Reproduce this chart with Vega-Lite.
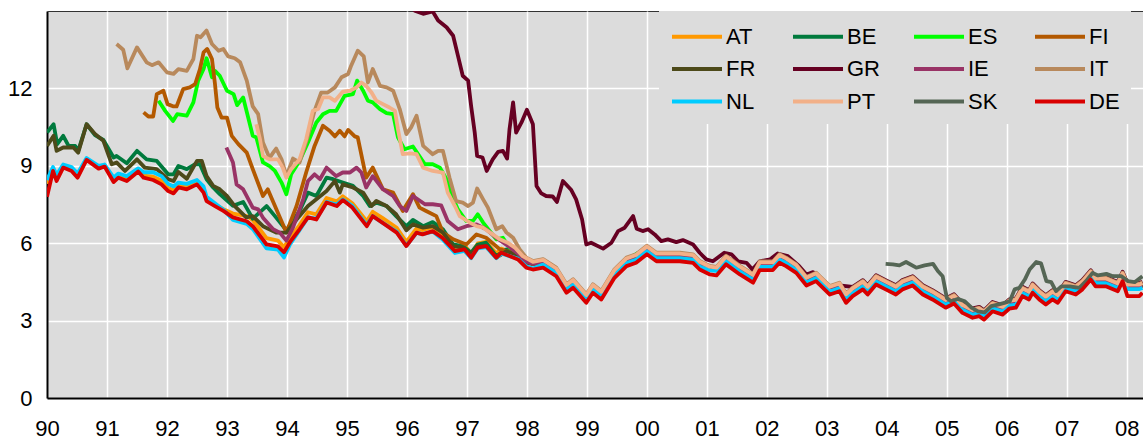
{
"$schema": "https://vega.github.io/schema/vega-lite/v6.json",
"width": 1096, "height": 387,
"autosize": {"type": "none"},
"padding": {"left": 47, "top": 11, "right": 0, "bottom": 43},
"background": "white",
"config": {
 "view": {"fill": "#dcdcdc", "stroke": "#333333", "strokeWidth": 1},
 "axis": {"grid": true, "gridColor": "white", "gridWidth": 1.5, "domainColor": "black", "domainWidth": 2, "ticks": false, "labelFont": "Liberation Sans", "labelFontSize": 22, "labelColor": "black", "title": null},
 "legend": {"orient": "none", "direction": "horizontal", "legendX": 612, "legendY": 0, "columns": 4, "symbolType": "M-1,0H3", "symbolSize": 625, "symbolStrokeWidth": 4, "labelFont": "Liberation Sans", "labelFontSize": 22, "labelColor": "black", "fillColor": "#dcdcdc", "padding": 11, "rowPadding": 6.5, "columnPadding": 26, "gridAlign": "all", "labelOffset": 27, "title": null}
},
"data": {"values": [
{"c":"AT","t":1990,"v":8.3},{"c":"AT","t":1990.1,"v":8.85},{"c":"AT","t":1990.16,"v":8.5},{"c":"AT","t":1990.27,"v":8.98},{"c":"AT","t":1990.41,"v":8.87},{"c":"AT","t":1990.51,"v":8.6},{"c":"AT","t":1990.66,"v":9.27},{"c":"AT","t":1990.86,"v":8.94},{"c":"AT","t":1990.96,"v":9.0},{"c":"AT","t":1991.11,"v":8.45},{"c":"AT","t":1991.19,"v":8.6},{"c":"AT","t":1991.33,"v":8.5},{"c":"AT","t":1991.52,"v":8.84},{"c":"AT","t":1991.61,"v":8.62},{"c":"AT","t":1991.77,"v":8.58},{"c":"AT","t":1991.91,"v":8.42},{"c":"AT","t":1992.02,"v":8.14},{"c":"AT","t":1992.11,"v":8.05},{"c":"AT","t":1992.19,"v":8.24},{"c":"AT","t":1992.33,"v":8.18},{"c":"AT","t":1992.5,"v":8.36},{"c":"AT","t":1992.61,"v":8.05},{"c":"AT","t":1992.66,"v":7.7},{"c":"AT","t":1992.8,"v":7.5},{"c":"AT","t":1992.94,"v":7.32},{"c":"AT","t":1993.1,"v":7.15},{"c":"AT","t":1993.33,"v":7.05},{"c":"AT","t":1993.43,"v":6.9},{"c":"AT","t":1993.66,"v":6.2},{"c":"AT","t":1993.85,"v":6.1},{"c":"AT","t":1993.95,"v":5.85},{"c":"AT","t":1994.05,"v":6.2},{"c":"AT","t":1994.21,"v":6.7},{"c":"AT","t":1994.35,"v":7.2},{"c":"AT","t":1994.49,"v":7.12},{"c":"AT","t":1994.66,"v":7.75},{"c":"AT","t":1994.83,"v":7.62},{"c":"AT","t":1994.93,"v":7.82},{"c":"AT","t":1995.09,"v":7.55},{"c":"AT","t":1995.33,"v":6.85},{"c":"AT","t":1995.43,"v":7.22},{"c":"AT","t":1995.59,"v":6.98},{"c":"AT","t":1995.83,"v":6.6},{"c":"AT","t":1995.99,"v":6.05},{"c":"AT","t":1996.16,"v":6.57},{"c":"AT","t":1996.26,"v":6.5},{"c":"AT","t":1996.43,"v":6.63},{"c":"AT","t":1996.59,"v":6.37},{"c":"AT","t":1996.8,"v":5.85},{"c":"AT","t":1996.96,"v":5.92},{"c":"AT","t":1997.07,"v":5.6},{"c":"AT","t":1997.18,"v":5.99},{"c":"AT","t":1997.32,"v":6.05},{"c":"AT","t":1997.49,"v":5.6},{"c":"AT","t":1997.57,"v":5.79},{"c":"AT","t":1997.71,"v":5.66},{"c":"AT","t":1997.85,"v":5.53},{"c":"AT","t":1997.99,"v":5.21},
{"c":"AT","t":1998.1,"v":5.2},{"c":"AT","t":1998.27,"v":5.27},{"c":"AT","t":1998.49,"v":4.94},{"c":"AT","t":1998.66,"v":4.3},{"c":"AT","t":1998.77,"v":4.49},{"c":"AT","t":1998.99,"v":3.91},{"c":"AT","t":1999.1,"v":4.3},{"c":"AT","t":1999.24,"v":4.04},{"c":"AT","t":1999.46,"v":4.88},{"c":"AT","t":1999.66,"v":5.33},{"c":"AT","t":1999.82,"v":5.46},{"c":"AT","t":2000,"v":5.79},{"c":"AT","t":2000.16,"v":5.52},{"c":"AT","t":2000.32,"v":5.52},{"c":"AT","t":2000.55,"v":5.52},{"c":"AT","t":2000.77,"v":5.46},{"c":"AT","t":2000.88,"v":5.2},{"c":"AT","t":2001.05,"v":5.01},{"c":"AT","t":2001.16,"v":4.97},{"c":"AT","t":2001.32,"v":5.4},{"c":"AT","t":2001.55,"v":5.01},{"c":"AT","t":2001.77,"v":4.69},{"c":"AT","t":2001.88,"v":5.18},{"c":"AT","t":2002.1,"v":5.18},{"c":"AT","t":2002.21,"v":5.46},{"c":"AT","t":2002.32,"v":5.33},{"c":"AT","t":2002.49,"v":5.07},{"c":"AT","t":2002.66,"v":4.58},{"c":"AT","t":2002.82,"v":4.75},{"c":"AT","t":2003.05,"v":4.23},{"c":"AT","t":2003.21,"v":4.36},{"c":"AT","t":2003.32,"v":3.94},{"c":"AT","t":2003.43,"v":4.17},{"c":"AT","t":2003.6,"v":4.43},{"c":"AT","t":2003.68,"v":4.23},{"c":"AT","t":2003.82,"v":4.62},{"c":"AT","t":2003.98,"v":4.43},{"c":"AT","t":2004.15,"v":4.23},{"c":"AT","t":2004.26,"v":4.43},{"c":"AT","t":2004.43,"v":4.58},{"c":"AT","t":2004.6,"v":4.23},{"c":"AT","t":2004.76,"v":4.04},{"c":"AT","t":2004.98,"v":3.72},{"c":"AT","t":2005.12,"v":3.88},{"c":"AT","t":2005.26,"v":3.52},{"c":"AT","t":2005.43,"v":3.33},{"c":"AT","t":2005.54,"v":3.39},{"c":"AT","t":2005.62,"v":3.26},{"c":"AT","t":2005.76,"v":3.58},{"c":"AT","t":2005.93,"v":3.45},{"c":"AT","t":2006.04,"v":3.68},{"c":"AT","t":2006.15,"v":3.72},{"c":"AT","t":2006.26,"v":4.17},{"c":"AT","t":2006.37,"v":4.04},{"c":"AT","t":2006.43,"v":4.3},{"c":"AT","t":2006.54,"v":4.04},{"c":"AT","t":2006.65,"v":3.84},{"c":"AT","t":2006.76,"v":4.04},{"c":"AT","t":2006.85,"v":3.91},{"c":"AT","t":2006.98,"v":4.36},{"c":"AT","t":2007.15,"v":4.23},{"c":"AT","t":2007.26,"v":4.43},{"c":"AT","t":2007.4,"v":4.81},{"c":"AT","t":2007.48,"v":4.55},{"c":"AT","t":2007.65,"v":4.55},{"c":"AT","t":2007.85,"v":4.36},{"c":"AT","t":2007.93,"v":4.75},{"c":"AT","t":2008.01,"v":4.32},{"c":"AT","t":2008.21,"v":4.32},{"c":"AT","t":2008.26,"v":4.37},

{"c":"BE","t":1990,"v":10.29},{"c":"BE","t":1990.11,"v":10.61},{"c":"BE","t":1990.17,"v":9.84},{"c":"BE","t":1990.27,"v":10.16},{"c":"BE","t":1990.36,"v":9.77},{"c":"BE","t":1990.47,"v":9.77},{"c":"BE","t":1990.52,"v":9.58},{"c":"BE","t":1990.66,"v":10.61},{"c":"BE","t":1990.8,"v":10.19},{"c":"BE","t":1990.94,"v":10.0},{"c":"BE","t":1991.11,"v":9.32},{"c":"BE","t":1991.16,"v":9.38},{"c":"BE","t":1991.33,"v":9.1},{"c":"BE","t":1991.5,"v":9.58},{"c":"BE","t":1991.66,"v":9.25},{"c":"BE","t":1991.83,"v":9.19},{"c":"BE","t":1992.02,"v":8.67},{"c":"BE","t":1992.11,"v":8.67},{"c":"BE","t":1992.19,"v":8.99},{"c":"BE","t":1992.33,"v":8.87},{"c":"BE","t":1992.47,"v":9.06},{"c":"BE","t":1992.55,"v":9.06},{"c":"BE","t":1992.66,"v":8.48},{"c":"BE","t":1992.77,"v":8.16},{"c":"BE","t":1992.88,"v":7.9},{"c":"BE","t":1993.1,"v":7.45},{"c":"BE","t":1993.27,"v":7.6},{"c":"BE","t":1993.43,"v":6.95},{"c":"BE","t":1993.66,"v":7.44},{"c":"BE","t":1993.8,"v":7.05},{"c":"BE","t":1993.99,"v":6.5},{"c":"BE","t":1994.21,"v":7.25},{"c":"BE","t":1994.35,"v":7.96},{"c":"BE","t":1994.49,"v":7.83},{"c":"BE","t":1994.66,"v":8.54},{"c":"BE","t":1994.77,"v":8.48},{"c":"BE","t":1994.93,"v":8.35},{"c":"BE","t":1995.1,"v":8.22},{"c":"BE","t":1995.27,"v":7.83},{"c":"BE","t":1995.38,"v":7.44},{"c":"BE","t":1995.49,"v":7.57},{"c":"BE","t":1995.66,"v":7.44},{"c":"BE","t":1995.82,"v":7.05},{"c":"BE","t":1995.99,"v":6.66},{"c":"BE","t":1996.1,"v":6.9},{"c":"BE","t":1996.27,"v":6.66},{"c":"BE","t":1996.43,"v":6.82},{"c":"BE","t":1996.6,"v":6.54},{"c":"BE","t":1996.77,"v":5.95},{"c":"BE","t":1996.93,"v":5.89},{"c":"BE","t":1997.07,"v":5.63},{"c":"BE","t":1997.18,"v":5.95},{"c":"BE","t":1997.32,"v":6.02},{"c":"BE","t":1997.49,"v":5.5},{"c":"BE","t":1997.66,"v":5.76},{"c":"BE","t":1997.88,"v":5.55},{"c":"BE","t":1997.99,"v":5.3},
{"c":"BE","t":1998.1,"v":5.2},{"c":"BE","t":1998.27,"v":5.27},{"c":"BE","t":1998.49,"v":4.94},{"c":"BE","t":1998.66,"v":4.3},{"c":"BE","t":1998.77,"v":4.49},{"c":"BE","t":1998.99,"v":3.91},{"c":"BE","t":1999.1,"v":4.3},{"c":"BE","t":1999.24,"v":4.04},{"c":"BE","t":1999.46,"v":4.88},{"c":"BE","t":1999.66,"v":5.33},{"c":"BE","t":1999.82,"v":5.46},{"c":"BE","t":2000,"v":5.85},{"c":"BE","t":2000.16,"v":5.52},{"c":"BE","t":2000.32,"v":5.55},{"c":"BE","t":2000.55,"v":5.52},{"c":"BE","t":2000.77,"v":5.46},{"c":"BE","t":2000.88,"v":5.2},{"c":"BE","t":2001.05,"v":5.01},{"c":"BE","t":2001.16,"v":4.97},{"c":"BE","t":2001.32,"v":5.4},{"c":"BE","t":2001.55,"v":5.01},{"c":"BE","t":2001.77,"v":4.69},{"c":"BE","t":2001.88,"v":5.18},{"c":"BE","t":2002.1,"v":5.18},{"c":"BE","t":2002.21,"v":5.46},{"c":"BE","t":2002.32,"v":5.33},{"c":"BE","t":2002.49,"v":5.07},{"c":"BE","t":2002.66,"v":4.58},{"c":"BE","t":2002.82,"v":4.75},{"c":"BE","t":2003.05,"v":4.23},{"c":"BE","t":2003.21,"v":4.36},{"c":"BE","t":2003.32,"v":3.94},{"c":"BE","t":2003.43,"v":4.17},{"c":"BE","t":2003.6,"v":4.43},{"c":"BE","t":2003.68,"v":4.23},{"c":"BE","t":2003.82,"v":4.62},{"c":"BE","t":2003.98,"v":4.43},{"c":"BE","t":2004.15,"v":4.23},{"c":"BE","t":2004.26,"v":4.43},{"c":"BE","t":2004.43,"v":4.58},{"c":"BE","t":2004.6,"v":4.23},{"c":"BE","t":2004.76,"v":4.04},{"c":"BE","t":2004.98,"v":3.72},{"c":"BE","t":2005.12,"v":3.88},{"c":"BE","t":2005.26,"v":3.52},{"c":"BE","t":2005.43,"v":3.33},{"c":"BE","t":2005.54,"v":3.39},{"c":"BE","t":2005.62,"v":3.26},{"c":"BE","t":2005.76,"v":3.58},{"c":"BE","t":2005.93,"v":3.45},{"c":"BE","t":2006.04,"v":3.68},{"c":"BE","t":2006.15,"v":3.72},{"c":"BE","t":2006.26,"v":4.17},{"c":"BE","t":2006.37,"v":4.04},{"c":"BE","t":2006.43,"v":4.3},{"c":"BE","t":2006.54,"v":4.04},{"c":"BE","t":2006.65,"v":3.84},{"c":"BE","t":2006.76,"v":4.04},{"c":"BE","t":2006.85,"v":3.91},{"c":"BE","t":2006.98,"v":4.36},{"c":"BE","t":2007.15,"v":4.23},{"c":"BE","t":2007.26,"v":4.43},{"c":"BE","t":2007.4,"v":4.81},{"c":"BE","t":2007.48,"v":4.55},{"c":"BE","t":2007.65,"v":4.55},{"c":"BE","t":2007.85,"v":4.36},{"c":"BE","t":2007.93,"v":4.75},{"c":"BE","t":2008.01,"v":4.32},{"c":"BE","t":2008.21,"v":4.32},{"c":"BE","t":2008.26,"v":4.37},

{"c":"ES","t":1991.86,"v":11.52},{"c":"ES","t":1991.97,"v":11.13},{"c":"ES","t":1992.1,"v":10.74},{"c":"ES","t":1992.17,"v":11.0},{"c":"ES","t":1992.33,"v":10.94},{"c":"ES","t":1992.44,"v":11.46},{"c":"ES","t":1992.52,"v":12.3},{"c":"ES","t":1992.61,"v":12.75},{"c":"ES","t":1992.66,"v":13.17},{"c":"ES","t":1992.75,"v":12.43},{"c":"ES","t":1992.8,"v":12.68},{"c":"ES","t":1992.88,"v":12.49},{"c":"ES","t":1993,"v":11.91},{"c":"ES","t":1993.11,"v":11.78},{"c":"ES","t":1993.17,"v":11.35},{"c":"ES","t":1993.27,"v":11.65},{"c":"ES","t":1993.43,"v":10.16},{"c":"ES","t":1993.49,"v":10.1},{"c":"ES","t":1993.6,"v":9.13},{"c":"ES","t":1993.71,"v":8.99},{"c":"ES","t":1993.8,"v":8.8},{"c":"ES","t":1993.91,"v":8.35},{"c":"ES","t":1993.99,"v":7.9},{"c":"ES","t":1994.07,"v":8.67},{"c":"ES","t":1994.21,"v":9.19},{"c":"ES","t":1994.35,"v":9.9},{"c":"ES","t":1994.49,"v":10.68},{"c":"ES","t":1994.6,"v":11.0},{"c":"ES","t":1994.71,"v":11.13},{"c":"ES","t":1994.82,"v":11.13},{"c":"ES","t":1994.96,"v":11.71},{"c":"ES","t":1995.1,"v":11.78},{"c":"ES","t":1995.17,"v":12.3},{"c":"ES","t":1995.27,"v":11.91},{"c":"ES","t":1995.35,"v":11.52},{"c":"ES","t":1995.43,"v":11.46},{"c":"ES","t":1995.55,"v":11.2},{"c":"ES","t":1995.66,"v":11.04},{"c":"ES","t":1995.77,"v":11.0},{"c":"ES","t":1995.85,"v":10.1},{"c":"ES","t":1995.96,"v":9.64},{"c":"ES","t":1996.1,"v":9.75},{"c":"ES","t":1996.3,"v":9.06},{"c":"ES","t":1996.43,"v":9.06},{"c":"ES","t":1996.55,"v":8.93},{"c":"ES","t":1996.66,"v":8.48},{"c":"ES","t":1996.74,"v":7.9},{"c":"ES","t":1996.85,"v":7.31},{"c":"ES","t":1996.99,"v":6.86},{"c":"ES","t":1997.1,"v":6.86},{"c":"ES","t":1997.18,"v":7.12},{"c":"ES","t":1997.27,"v":6.8},{"c":"ES","t":1997.49,"v":6.15},{"c":"ES","t":1997.6,"v":6.21},{"c":"ES","t":1997.71,"v":5.83},{"c":"ES","t":1997.85,"v":5.6},{"c":"ES","t":1997.99,"v":5.3},
{"c":"ES","t":1998.1,"v":5.2},{"c":"ES","t":1998.27,"v":5.27},{"c":"ES","t":1998.49,"v":4.94},{"c":"ES","t":1998.66,"v":4.3},{"c":"ES","t":1998.77,"v":4.49},{"c":"ES","t":1998.99,"v":3.91},{"c":"ES","t":1999.1,"v":4.3},{"c":"ES","t":1999.24,"v":4.04},{"c":"ES","t":1999.46,"v":4.88},{"c":"ES","t":1999.66,"v":5.36},{"c":"ES","t":1999.82,"v":5.58},{"c":"ES","t":2000,"v":5.79},{"c":"ES","t":2000.16,"v":5.52},{"c":"ES","t":2000.32,"v":5.52},{"c":"ES","t":2000.55,"v":5.52},{"c":"ES","t":2000.77,"v":5.46},{"c":"ES","t":2000.88,"v":5.2},{"c":"ES","t":2001.05,"v":5.01},{"c":"ES","t":2001.16,"v":4.97},{"c":"ES","t":2001.32,"v":5.4},{"c":"ES","t":2001.55,"v":5.01},{"c":"ES","t":2001.77,"v":4.69},{"c":"ES","t":2001.88,"v":5.18},{"c":"ES","t":2002.1,"v":5.18},{"c":"ES","t":2002.21,"v":5.46},{"c":"ES","t":2002.32,"v":5.33},{"c":"ES","t":2002.49,"v":5.07},{"c":"ES","t":2002.66,"v":4.58},{"c":"ES","t":2002.82,"v":4.75},{"c":"ES","t":2003.05,"v":4.23},{"c":"ES","t":2003.21,"v":4.36},{"c":"ES","t":2003.32,"v":3.94},{"c":"ES","t":2003.43,"v":4.17},{"c":"ES","t":2003.6,"v":4.43},{"c":"ES","t":2003.68,"v":4.23},{"c":"ES","t":2003.82,"v":4.62},{"c":"ES","t":2003.98,"v":4.43},{"c":"ES","t":2004.15,"v":4.23},{"c":"ES","t":2004.26,"v":4.43},{"c":"ES","t":2004.43,"v":4.58},{"c":"ES","t":2004.6,"v":4.23},{"c":"ES","t":2004.76,"v":4.04},{"c":"ES","t":2004.98,"v":3.72},{"c":"ES","t":2005.12,"v":3.88},{"c":"ES","t":2005.26,"v":3.52},{"c":"ES","t":2005.43,"v":3.33},{"c":"ES","t":2005.54,"v":3.39},{"c":"ES","t":2005.62,"v":3.26},{"c":"ES","t":2005.76,"v":3.58},{"c":"ES","t":2005.93,"v":3.45},{"c":"ES","t":2006.04,"v":3.68},{"c":"ES","t":2006.15,"v":3.72},{"c":"ES","t":2006.26,"v":4.17},{"c":"ES","t":2006.37,"v":4.04},{"c":"ES","t":2006.43,"v":4.3},{"c":"ES","t":2006.54,"v":4.04},{"c":"ES","t":2006.65,"v":3.84},{"c":"ES","t":2006.76,"v":4.04},{"c":"ES","t":2006.85,"v":3.91},{"c":"ES","t":2006.98,"v":4.36},{"c":"ES","t":2007.15,"v":4.23},{"c":"ES","t":2007.26,"v":4.43},{"c":"ES","t":2007.4,"v":4.81},{"c":"ES","t":2007.48,"v":4.55},{"c":"ES","t":2007.65,"v":4.55},{"c":"ES","t":2007.85,"v":4.36},{"c":"ES","t":2007.93,"v":4.75},{"c":"ES","t":2008.01,"v":4.32},{"c":"ES","t":2008.21,"v":4.32},{"c":"ES","t":2008.26,"v":4.37},

{"c":"FI","t":1991.61,"v":11.07},{"c":"FI","t":1991.69,"v":10.91},{"c":"FI","t":1991.77,"v":10.91},{"c":"FI","t":1991.83,"v":11.78},{"c":"FI","t":1991.94,"v":11.91},{"c":"FI","t":1992.01,"v":11.39},{"c":"FI","t":1992.11,"v":11.3},{"c":"FI","t":1992.16,"v":11.3},{"c":"FI","t":1992.27,"v":11.97},{"c":"FI","t":1992.38,"v":12.04},{"c":"FI","t":1992.47,"v":12.17},{"c":"FI","t":1992.55,"v":12.75},{"c":"FI","t":1992.61,"v":13.4},{"c":"FI","t":1992.67,"v":13.53},{"c":"FI","t":1992.75,"v":13.14},{"c":"FI","t":1992.8,"v":12.17},{"c":"FI","t":1992.84,"v":11.26},{"c":"FI","t":1992.91,"v":10.87},{"c":"FI","t":1993,"v":10.87},{"c":"FI","t":1993.08,"v":10.16},{"c":"FI","t":1993.19,"v":9.84},{"c":"FI","t":1993.33,"v":9.51},{"c":"FI","t":1993.43,"v":8.87},{"c":"FI","t":1993.6,"v":7.83},{"c":"FI","t":1993.68,"v":8.09},{"c":"FI","t":1993.99,"v":6.41},{"c":"FI","t":1994.16,"v":7.44},{"c":"FI","t":1994.32,"v":8.74},{"c":"FI","t":1994.46,"v":9.77},{"c":"FI","t":1994.6,"v":10.55},{"c":"FI","t":1994.71,"v":10.36},{"c":"FI","t":1994.8,"v":10.14},{"c":"FI","t":1994.88,"v":10.36},{"c":"FI","t":1994.96,"v":10.14},{"c":"FI","t":1995.02,"v":10.39},{"c":"FI","t":1995.13,"v":10.14},{"c":"FI","t":1995.18,"v":10.1},{"c":"FI","t":1995.32,"v":8.54},{"c":"FI","t":1995.43,"v":8.93},{"c":"FI","t":1995.6,"v":8.09},{"c":"FI","t":1995.77,"v":7.96},{"c":"FI","t":1995.93,"v":7.25},{"c":"FI","t":1996.1,"v":7.9},{"c":"FI","t":1996.21,"v":7.38},{"c":"FI","t":1996.32,"v":7.25},{"c":"FI","t":1996.49,"v":7.05},{"c":"FI","t":1996.6,"v":6.41},{"c":"FI","t":1996.77,"v":6.15},{"c":"FI","t":1996.99,"v":5.95},{"c":"FI","t":1997.16,"v":6.34},{"c":"FI","t":1997.32,"v":6.21},{"c":"FI","t":1997.55,"v":5.76},{"c":"FI","t":1997.77,"v":5.63},{"c":"FI","t":1997.99,"v":5.28},
{"c":"FI","t":1998.1,"v":5.2},{"c":"FI","t":1998.27,"v":5.27},{"c":"FI","t":1998.49,"v":4.94},{"c":"FI","t":1998.66,"v":4.3},{"c":"FI","t":1998.77,"v":4.49},{"c":"FI","t":1998.99,"v":3.91},{"c":"FI","t":1999.1,"v":4.3},{"c":"FI","t":1999.24,"v":4.04},{"c":"FI","t":1999.46,"v":4.88},{"c":"FI","t":1999.66,"v":5.33},{"c":"FI","t":1999.82,"v":5.46},{"c":"FI","t":2000,"v":5.79},{"c":"FI","t":2000.16,"v":5.52},{"c":"FI","t":2000.32,"v":5.52},{"c":"FI","t":2000.55,"v":5.52},{"c":"FI","t":2000.77,"v":5.46},{"c":"FI","t":2000.88,"v":5.2},{"c":"FI","t":2001.05,"v":5.01},{"c":"FI","t":2001.16,"v":4.97},{"c":"FI","t":2001.32,"v":5.4},{"c":"FI","t":2001.55,"v":5.01},{"c":"FI","t":2001.77,"v":4.69},{"c":"FI","t":2001.88,"v":5.18},{"c":"FI","t":2002.1,"v":5.18},{"c":"FI","t":2002.21,"v":5.46},{"c":"FI","t":2002.32,"v":5.33},{"c":"FI","t":2002.49,"v":5.07},{"c":"FI","t":2002.66,"v":4.58},{"c":"FI","t":2002.82,"v":4.75},{"c":"FI","t":2003.05,"v":4.23},{"c":"FI","t":2003.21,"v":4.36},{"c":"FI","t":2003.32,"v":3.94},{"c":"FI","t":2003.43,"v":4.17},{"c":"FI","t":2003.6,"v":4.43},{"c":"FI","t":2003.68,"v":4.23},{"c":"FI","t":2003.82,"v":4.62},{"c":"FI","t":2003.98,"v":4.43},{"c":"FI","t":2004.15,"v":4.23},{"c":"FI","t":2004.26,"v":4.43},{"c":"FI","t":2004.43,"v":4.58},{"c":"FI","t":2004.6,"v":4.23},{"c":"FI","t":2004.76,"v":4.04},{"c":"FI","t":2004.98,"v":3.72},{"c":"FI","t":2005.12,"v":3.88},{"c":"FI","t":2005.26,"v":3.52},{"c":"FI","t":2005.43,"v":3.33},{"c":"FI","t":2005.54,"v":3.39},{"c":"FI","t":2005.62,"v":3.26},{"c":"FI","t":2005.76,"v":3.58},{"c":"FI","t":2005.93,"v":3.45},{"c":"FI","t":2006.04,"v":3.68},{"c":"FI","t":2006.15,"v":3.72},{"c":"FI","t":2006.26,"v":4.17},{"c":"FI","t":2006.37,"v":4.04},{"c":"FI","t":2006.43,"v":4.3},{"c":"FI","t":2006.54,"v":4.04},{"c":"FI","t":2006.65,"v":3.84},{"c":"FI","t":2006.76,"v":4.04},{"c":"FI","t":2006.85,"v":3.91},{"c":"FI","t":2006.98,"v":4.36},{"c":"FI","t":2007.15,"v":4.23},{"c":"FI","t":2007.26,"v":4.43},{"c":"FI","t":2007.4,"v":4.81},{"c":"FI","t":2007.48,"v":4.55},{"c":"FI","t":2007.65,"v":4.55},{"c":"FI","t":2007.85,"v":4.36},{"c":"FI","t":2007.93,"v":4.75},{"c":"FI","t":2008.01,"v":4.32},{"c":"FI","t":2008.21,"v":4.32},{"c":"FI","t":2008.26,"v":4.37},

{"c":"FR","t":1990,"v":9.77},{"c":"FR","t":1990.11,"v":10.16},{"c":"FR","t":1990.16,"v":9.58},{"c":"FR","t":1990.27,"v":9.71},{"c":"FR","t":1990.44,"v":9.71},{"c":"FR","t":1990.52,"v":9.51},{"c":"FR","t":1990.66,"v":10.61},{"c":"FR","t":1990.8,"v":10.23},{"c":"FR","t":1990.94,"v":9.97},{"c":"FR","t":1991.08,"v":9.06},{"c":"FR","t":1991.16,"v":9.13},{"c":"FR","t":1991.3,"v":8.8},{"c":"FR","t":1991.5,"v":9.25},{"c":"FR","t":1991.63,"v":8.93},{"c":"FR","t":1991.83,"v":8.87},{"c":"FR","t":1992.02,"v":8.48},{"c":"FR","t":1992.11,"v":8.41},{"c":"FR","t":1992.19,"v":8.76},{"c":"FR","t":1992.33,"v":8.5},{"c":"FR","t":1992.5,"v":9.19},{"c":"FR","t":1992.58,"v":9.19},{"c":"FR","t":1992.66,"v":8.6},{"c":"FR","t":1992.77,"v":8.22},{"c":"FR","t":1992.88,"v":8.09},{"c":"FR","t":1993,"v":7.83},{"c":"FR","t":1993.13,"v":7.44},{"c":"FR","t":1993.32,"v":7.0},{"c":"FR","t":1993.43,"v":7.05},{"c":"FR","t":1993.6,"v":6.66},{"c":"FR","t":1993.82,"v":6.41},{"c":"FR","t":1993.99,"v":6.41},{"c":"FR","t":1994.16,"v":6.92},{"c":"FR","t":1994.35,"v":7.44},{"c":"FR","t":1994.49,"v":7.7},{"c":"FR","t":1994.66,"v":8.02},{"c":"FR","t":1994.8,"v":8.41},{"c":"FR","t":1994.88,"v":7.96},{"c":"FR","t":1994.93,"v":8.28},{"c":"FR","t":1995.1,"v":8.16},{"c":"FR","t":1995.27,"v":7.96},{"c":"FR","t":1995.41,"v":7.44},{"c":"FR","t":1995.49,"v":7.64},{"c":"FR","t":1995.66,"v":7.44},{"c":"FR","t":1995.82,"v":7.12},{"c":"FR","t":1995.99,"v":6.5},{"c":"FR","t":1996.1,"v":6.73},{"c":"FR","t":1996.27,"v":6.6},{"c":"FR","t":1996.43,"v":6.66},{"c":"FR","t":1996.6,"v":6.41},{"c":"FR","t":1996.77,"v":5.89},{"c":"FR","t":1996.93,"v":5.83},{"c":"FR","t":1997.07,"v":5.57},{"c":"FR","t":1997.18,"v":5.89},{"c":"FR","t":1997.32,"v":5.89},{"c":"FR","t":1997.49,"v":5.44},{"c":"FR","t":1997.66,"v":5.69},{"c":"FR","t":1997.88,"v":5.5},{"c":"FR","t":1997.99,"v":5.25},
{"c":"FR","t":1998.1,"v":5.2},{"c":"FR","t":1998.27,"v":5.27},{"c":"FR","t":1998.49,"v":4.94},{"c":"FR","t":1998.66,"v":4.3},{"c":"FR","t":1998.77,"v":4.49},{"c":"FR","t":1998.99,"v":3.91},{"c":"FR","t":1999.1,"v":4.3},{"c":"FR","t":1999.24,"v":4.04},{"c":"FR","t":1999.46,"v":4.88},{"c":"FR","t":1999.66,"v":5.33},{"c":"FR","t":1999.82,"v":5.46},{"c":"FR","t":2000,"v":5.79},{"c":"FR","t":2000.16,"v":5.52},{"c":"FR","t":2000.32,"v":5.52},{"c":"FR","t":2000.55,"v":5.52},{"c":"FR","t":2000.77,"v":5.46},{"c":"FR","t":2000.88,"v":5.2},{"c":"FR","t":2001.05,"v":5.01},{"c":"FR","t":2001.16,"v":4.97},{"c":"FR","t":2001.32,"v":5.4},{"c":"FR","t":2001.55,"v":5.01},{"c":"FR","t":2001.77,"v":4.69},{"c":"FR","t":2001.88,"v":5.18},{"c":"FR","t":2002.1,"v":5.18},{"c":"FR","t":2002.21,"v":5.46},{"c":"FR","t":2002.32,"v":5.33},{"c":"FR","t":2002.49,"v":5.07},{"c":"FR","t":2002.66,"v":4.58},{"c":"FR","t":2002.82,"v":4.75},{"c":"FR","t":2003.05,"v":4.23},{"c":"FR","t":2003.21,"v":4.36},{"c":"FR","t":2003.32,"v":3.94},{"c":"FR","t":2003.43,"v":4.17},{"c":"FR","t":2003.6,"v":4.43},{"c":"FR","t":2003.68,"v":4.23},{"c":"FR","t":2003.82,"v":4.62},{"c":"FR","t":2003.98,"v":4.43},{"c":"FR","t":2004.15,"v":4.23},{"c":"FR","t":2004.26,"v":4.43},{"c":"FR","t":2004.43,"v":4.58},{"c":"FR","t":2004.6,"v":4.23},{"c":"FR","t":2004.76,"v":4.04},{"c":"FR","t":2004.98,"v":3.72},{"c":"FR","t":2005.12,"v":3.88},{"c":"FR","t":2005.26,"v":3.52},{"c":"FR","t":2005.43,"v":3.33},{"c":"FR","t":2005.54,"v":3.39},{"c":"FR","t":2005.62,"v":3.26},{"c":"FR","t":2005.76,"v":3.58},{"c":"FR","t":2005.93,"v":3.45},{"c":"FR","t":2006.04,"v":3.68},{"c":"FR","t":2006.15,"v":3.72},{"c":"FR","t":2006.26,"v":4.17},{"c":"FR","t":2006.37,"v":4.04},{"c":"FR","t":2006.43,"v":4.3},{"c":"FR","t":2006.54,"v":4.04},{"c":"FR","t":2006.65,"v":3.84},{"c":"FR","t":2006.76,"v":4.04},{"c":"FR","t":2006.85,"v":3.91},{"c":"FR","t":2006.98,"v":4.36},{"c":"FR","t":2007.15,"v":4.23},{"c":"FR","t":2007.26,"v":4.43},{"c":"FR","t":2007.4,"v":4.81},{"c":"FR","t":2007.48,"v":4.55},{"c":"FR","t":2007.65,"v":4.55},{"c":"FR","t":2007.85,"v":4.36},{"c":"FR","t":2007.93,"v":4.75},{"c":"FR","t":2008.01,"v":4.32},{"c":"FR","t":2008.21,"v":4.32},{"c":"FR","t":2008.26,"v":4.37},

{"c":"GR","t":1995.95,"v":15.6},{"c":"GR","t":1996.13,"v":15.01},{"c":"GR","t":1996.27,"v":14.89},{"c":"GR","t":1996.43,"v":14.98},{"c":"GR","t":1996.52,"v":14.63},{"c":"GR","t":1996.66,"v":14.37},{"c":"GR","t":1996.77,"v":14.04},{"c":"GR","t":1996.85,"v":13.27},{"c":"GR","t":1996.93,"v":12.49},{"c":"GR","t":1997.02,"v":12.3},{"c":"GR","t":1997.07,"v":11.32},{"c":"GR","t":1997.13,"v":10.29},{"c":"GR","t":1997.17,"v":9.38},{"c":"GR","t":1997.26,"v":9.32},{"c":"GR","t":1997.33,"v":8.8},{"c":"GR","t":1997.43,"v":9.25},{"c":"GR","t":1997.52,"v":9.54},{"c":"GR","t":1997.6,"v":9.58},{"c":"GR","t":1997.67,"v":9.28},{"c":"GR","t":1997.71,"v":10.42},{"c":"GR","t":1997.77,"v":11.46},{"c":"GR","t":1997.82,"v":10.29},{"c":"GR","t":1997.91,"v":10.68},{"c":"GR","t":1998,"v":11.17},{"c":"GR","t":1998.1,"v":10.61},{"c":"GR","t":1998.16,"v":8.22},{"c":"GR","t":1998.24,"v":7.93},{"c":"GR","t":1998.32,"v":7.83},{"c":"GR","t":1998.43,"v":7.81},{"c":"GR","t":1998.5,"v":7.6},{"c":"GR","t":1998.6,"v":8.41},{"c":"GR","t":1998.74,"v":8.06},{"c":"GR","t":1998.82,"v":7.7},{"c":"GR","t":1998.92,"v":6.92},{"c":"GR","t":1998.99,"v":5.95},{"c":"GR","t":1999.07,"v":6.02},{"c":"GR","t":1999.27,"v":5.79},{"c":"GR","t":1999.41,"v":6.02},{"c":"GR","t":1999.52,"v":6.47},{"c":"GR","t":1999.63,"v":6.6},{"c":"GR","t":1999.77,"v":7.05},{"c":"GR","t":1999.83,"v":6.56},{"c":"GR","t":1999.93,"v":6.47},{"c":"GR","t":2000.02,"v":6.54},{"c":"GR","t":2000.13,"v":6.34},{"c":"GR","t":2000.24,"v":6.08},{"c":"GR","t":2000.35,"v":6.15},{"c":"GR","t":2000.49,"v":6.04},{"c":"GR","t":2000.6,"v":6.12},{"c":"GR","t":2000.77,"v":5.95},{"c":"GR","t":2000.88,"v":5.63},{"c":"GR","t":2000.99,"v":5.37},{"c":"GR","t":2001.1,"v":5.3},{"c":"GR","t":2001.29,"v":5.63},{"c":"GR","t":2001.41,"v":5.57},{"c":"GR","t":2001.52,"v":5.3},{"c":"GR","t":2001.66,"v":5.24},{"c":"GR","t":2001.76,"v":4.98},{"c":"GR","t":2001.88,"v":5.3},{"c":"GR","t":2002.05,"v":5.37},{"c":"GR","t":2002.18,"v":5.6},{"c":"GR","t":2002.35,"v":5.5},{"c":"GR","t":2002.54,"v":5.11},{"c":"GR","t":2002.66,"v":4.79},{"c":"GR","t":2002.77,"v":4.88},{"c":"GR","t":2002.93,"v":4.47},{"c":"GR","t":2003.1,"v":4.27},{"c":"GR","t":2003.21,"v":4.36},
{"c":"GR","t":2003.43,"v":4.31},{"c":"GR","t":2003.6,"v":4.57},{"c":"GR","t":2003.68,"v":4.37},{"c":"GR","t":2003.82,"v":4.76},{"c":"GR","t":2003.98,"v":4.57},{"c":"GR","t":2004.15,"v":4.37},{"c":"GR","t":2004.26,"v":4.57},{"c":"GR","t":2004.43,"v":4.72},{"c":"GR","t":2004.6,"v":4.37},{"c":"GR","t":2004.76,"v":4.18},{"c":"GR","t":2004.98,"v":3.86},{"c":"GR","t":2005.12,"v":4.02},{"c":"GR","t":2005.26,"v":3.66},{"c":"GR","t":2005.43,"v":3.47},{"c":"GR","t":2005.54,"v":3.53},{"c":"GR","t":2005.62,"v":3.4},{"c":"GR","t":2005.76,"v":3.72},{"c":"GR","t":2005.93,"v":3.59},{"c":"GR","t":2006.04,"v":3.82},{"c":"GR","t":2006.15,"v":3.86},{"c":"GR","t":2006.26,"v":4.31},{"c":"GR","t":2006.37,"v":4.18},{"c":"GR","t":2006.43,"v":4.44},{"c":"GR","t":2006.54,"v":4.18},{"c":"GR","t":2006.65,"v":3.98},{"c":"GR","t":2006.76,"v":4.18},{"c":"GR","t":2006.85,"v":4.05},{"c":"GR","t":2006.98,"v":4.5},{"c":"GR","t":2007.15,"v":4.37},{"c":"GR","t":2007.26,"v":4.57},{"c":"GR","t":2007.4,"v":4.95},{"c":"GR","t":2007.48,"v":4.69},{"c":"GR","t":2007.65,"v":4.69},{"c":"GR","t":2007.85,"v":4.5},{"c":"GR","t":2007.93,"v":4.89},{"c":"GR","t":2008.01,"v":4.46},{"c":"GR","t":2008.21,"v":4.46},{"c":"GR","t":2008.26,"v":4.51},

{"c":"IE","t":1992.99,"v":9.71},{"c":"IE","t":1993.1,"v":9.13},{"c":"IE","t":1993.16,"v":8.28},{"c":"IE","t":1993.27,"v":8.09},{"c":"IE","t":1993.43,"v":7.38},{"c":"IE","t":1993.52,"v":7.31},{"c":"IE","t":1993.6,"v":6.99},{"c":"IE","t":1993.77,"v":6.54},{"c":"IE","t":1993.88,"v":6.41},{"c":"IE","t":1993.99,"v":6.1},{"c":"IE","t":1994.1,"v":6.6},{"c":"IE","t":1994.27,"v":7.7},{"c":"IE","t":1994.35,"v":8.41},{"c":"IE","t":1994.46,"v":8.67},{"c":"IE","t":1994.55,"v":8.48},{"c":"IE","t":1994.66,"v":8.93},{"c":"IE","t":1994.82,"v":8.6},{"c":"IE","t":1994.93,"v":8.74},{"c":"IE","t":1995.05,"v":8.74},{"c":"IE","t":1995.16,"v":8.93},{"c":"IE","t":1995.24,"v":8.74},{"c":"IE","t":1995.32,"v":8.16},{"c":"IE","t":1995.43,"v":8.6},{"c":"IE","t":1995.6,"v":8.09},{"c":"IE","t":1995.77,"v":7.83},{"c":"IE","t":1995.88,"v":7.44},{"c":"IE","t":1995.99,"v":7.25},{"c":"IE","t":1996.1,"v":7.83},{"c":"IE","t":1996.3,"v":7.51},{"c":"IE","t":1996.43,"v":7.51},{"c":"IE","t":1996.57,"v":7.47},{"c":"IE","t":1996.68,"v":6.86},{"c":"IE","t":1996.85,"v":6.54},{"c":"IE","t":1996.99,"v":6.66},{"c":"IE","t":1997.16,"v":6.73},{"c":"IE","t":1997.32,"v":6.54},{"c":"IE","t":1997.49,"v":6.21},{"c":"IE","t":1997.71,"v":5.85},{"c":"IE","t":1997.85,"v":5.6},{"c":"IE","t":1997.99,"v":5.28},
{"c":"IE","t":1998.1,"v":5.2},{"c":"IE","t":1998.27,"v":5.27},{"c":"IE","t":1998.49,"v":4.94},{"c":"IE","t":1998.66,"v":4.3},{"c":"IE","t":1998.77,"v":4.49},{"c":"IE","t":1998.99,"v":3.91},{"c":"IE","t":1999.1,"v":4.3},{"c":"IE","t":1999.24,"v":4.04},{"c":"IE","t":1999.46,"v":4.88},{"c":"IE","t":1999.66,"v":5.33},{"c":"IE","t":1999.82,"v":5.46},{"c":"IE","t":2000,"v":5.79},{"c":"IE","t":2000.16,"v":5.52},{"c":"IE","t":2000.32,"v":5.52},{"c":"IE","t":2000.55,"v":5.52},{"c":"IE","t":2000.77,"v":5.46},{"c":"IE","t":2000.88,"v":5.2},{"c":"IE","t":2001.05,"v":5.01},{"c":"IE","t":2001.16,"v":4.97},{"c":"IE","t":2001.32,"v":5.4},{"c":"IE","t":2001.55,"v":5.01},{"c":"IE","t":2001.77,"v":4.69},{"c":"IE","t":2001.88,"v":5.18},{"c":"IE","t":2002.1,"v":5.18},{"c":"IE","t":2002.21,"v":5.46},{"c":"IE","t":2002.32,"v":5.33},{"c":"IE","t":2002.49,"v":5.07},{"c":"IE","t":2002.66,"v":4.58},{"c":"IE","t":2002.82,"v":4.75},{"c":"IE","t":2003.05,"v":4.23},{"c":"IE","t":2003.21,"v":4.36},{"c":"IE","t":2003.32,"v":3.94},{"c":"IE","t":2003.43,"v":4.17},{"c":"IE","t":2003.6,"v":4.43},{"c":"IE","t":2003.68,"v":4.23},{"c":"IE","t":2003.82,"v":4.62},{"c":"IE","t":2003.98,"v":4.43},{"c":"IE","t":2004.15,"v":4.23},{"c":"IE","t":2004.26,"v":4.43},{"c":"IE","t":2004.43,"v":4.58},{"c":"IE","t":2004.6,"v":4.23},{"c":"IE","t":2004.76,"v":4.04},{"c":"IE","t":2004.98,"v":3.72},{"c":"IE","t":2005.12,"v":3.88},{"c":"IE","t":2005.26,"v":3.52},{"c":"IE","t":2005.43,"v":3.33},{"c":"IE","t":2005.54,"v":3.39},{"c":"IE","t":2005.62,"v":3.26},{"c":"IE","t":2005.76,"v":3.58},{"c":"IE","t":2005.93,"v":3.45},{"c":"IE","t":2006.04,"v":3.68},{"c":"IE","t":2006.15,"v":3.72},{"c":"IE","t":2006.26,"v":4.17},{"c":"IE","t":2006.37,"v":4.04},{"c":"IE","t":2006.43,"v":4.3},{"c":"IE","t":2006.54,"v":4.04},{"c":"IE","t":2006.65,"v":3.84},{"c":"IE","t":2006.76,"v":4.04},{"c":"IE","t":2006.85,"v":3.91},{"c":"IE","t":2006.98,"v":4.36},{"c":"IE","t":2007.15,"v":4.23},{"c":"IE","t":2007.26,"v":4.43},{"c":"IE","t":2007.4,"v":4.81},{"c":"IE","t":2007.48,"v":4.55},{"c":"IE","t":2007.65,"v":4.55},{"c":"IE","t":2007.85,"v":4.36},{"c":"IE","t":2007.93,"v":4.75},{"c":"IE","t":2008.01,"v":4.32},{"c":"IE","t":2008.21,"v":4.32},{"c":"IE","t":2008.26,"v":4.37},

{"c":"IT","t":1991.16,"v":13.72},{"c":"IT","t":1991.27,"v":13.5},{"c":"IT","t":1991.34,"v":12.78},{"c":"IT","t":1991.5,"v":13.59},{"c":"IT","t":1991.66,"v":13.01},{"c":"IT","t":1991.75,"v":12.9},{"c":"IT","t":1991.86,"v":13.01},{"c":"IT","t":1992,"v":12.62},{"c":"IT","t":1992.11,"v":12.56},{"c":"IT","t":1992.19,"v":12.75},{"c":"IT","t":1992.33,"v":12.68},{"c":"IT","t":1992.44,"v":13.14},{"c":"IT","t":1992.5,"v":14.04},{"c":"IT","t":1992.56,"v":13.98},{"c":"IT","t":1992.66,"v":14.24},{"c":"IT","t":1992.75,"v":13.72},{"c":"IT","t":1992.86,"v":13.46},{"c":"IT","t":1992.94,"v":13.53},{"c":"IT","t":1993.02,"v":13.24},{"c":"IT","t":1993.13,"v":13.17},{"c":"IT","t":1993.22,"v":13.01},{"c":"IT","t":1993.33,"v":12.3},{"c":"IT","t":1993.43,"v":11.3},{"c":"IT","t":1993.52,"v":11.0},{"c":"IT","t":1993.6,"v":9.9},{"c":"IT","t":1993.71,"v":9.3},{"c":"IT","t":1993.77,"v":9.51},{"c":"IT","t":1993.82,"v":9.67},{"c":"IT","t":1993.91,"v":9.25},{"c":"IT","t":1993.99,"v":8.6},{"c":"IT","t":1994.1,"v":9.28},{"c":"IT","t":1994.21,"v":9.13},{"c":"IT","t":1994.35,"v":10.16},{"c":"IT","t":1994.46,"v":11.13},{"c":"IT","t":1994.57,"v":11.84},{"c":"IT","t":1994.68,"v":11.84},{"c":"IT","t":1994.8,"v":12.04},{"c":"IT","t":1994.91,"v":12.43},{"c":"IT","t":1995.02,"v":12.56},{"c":"IT","t":1995.07,"v":12.88},{"c":"IT","t":1995.18,"v":13.46},{"c":"IT","t":1995.28,"v":13.24},{"c":"IT","t":1995.35,"v":12.23},{"c":"IT","t":1995.43,"v":12.75},{"c":"IT","t":1995.55,"v":12.1},{"c":"IT","t":1995.66,"v":12.04},{"c":"IT","t":1995.77,"v":11.91},{"c":"IT","t":1995.88,"v":11.2},{"c":"IT","t":1995.99,"v":10.23},{"c":"IT","t":1996.07,"v":10.49},{"c":"IT","t":1996.16,"v":10.94},{"c":"IT","t":1996.27,"v":9.77},{"c":"IT","t":1996.43,"v":9.45},{"c":"IT","t":1996.52,"v":9.58},{"c":"IT","t":1996.6,"v":9.58},{"c":"IT","t":1996.71,"v":8.54},{"c":"IT","t":1996.82,"v":7.63},{"c":"IT","t":1996.93,"v":7.57},{"c":"IT","t":1997.02,"v":7.44},{"c":"IT","t":1997.1,"v":7.57},{"c":"IT","t":1997.17,"v":8.12},{"c":"IT","t":1997.27,"v":7.7},{"c":"IT","t":1997.35,"v":7.38},{"c":"IT","t":1997.49,"v":6.54},{"c":"IT","t":1997.59,"v":6.66},{"c":"IT","t":1997.66,"v":6.41},{"c":"IT","t":1997.77,"v":6.21},{"c":"IT","t":1997.88,"v":5.76},{"c":"IT","t":1997.99,"v":5.44},
{"c":"IT","t":1998.1,"v":5.31},{"c":"IT","t":1998.27,"v":5.38},{"c":"IT","t":1998.49,"v":5.05},{"c":"IT","t":1998.66,"v":4.41},{"c":"IT","t":1998.77,"v":4.6},{"c":"IT","t":1998.99,"v":4.02},{"c":"IT","t":1999.1,"v":4.41},{"c":"IT","t":1999.24,"v":4.15},{"c":"IT","t":1999.46,"v":4.99},{"c":"IT","t":1999.66,"v":5.44},{"c":"IT","t":1999.82,"v":5.57},{"c":"IT","t":2000,"v":5.9},{"c":"IT","t":2000.16,"v":5.63},{"c":"IT","t":2000.32,"v":5.63},{"c":"IT","t":2000.55,"v":5.63},{"c":"IT","t":2000.77,"v":5.57},{"c":"IT","t":2000.88,"v":5.31},{"c":"IT","t":2001.05,"v":5.12},{"c":"IT","t":2001.16,"v":5.08},{"c":"IT","t":2001.32,"v":5.51},{"c":"IT","t":2001.55,"v":5.12},{"c":"IT","t":2001.77,"v":4.8},{"c":"IT","t":2001.88,"v":5.29},{"c":"IT","t":2002.1,"v":5.29},{"c":"IT","t":2002.21,"v":5.57},{"c":"IT","t":2002.32,"v":5.44},{"c":"IT","t":2002.49,"v":5.18},{"c":"IT","t":2002.66,"v":4.69},{"c":"IT","t":2002.82,"v":4.86},{"c":"IT","t":2003.05,"v":4.34},{"c":"IT","t":2003.21,"v":4.47},{"c":"IT","t":2003.32,"v":4.05},{"c":"IT","t":2003.43,"v":4.28},{"c":"IT","t":2003.6,"v":4.54},{"c":"IT","t":2003.68,"v":4.34},{"c":"IT","t":2003.82,"v":4.73},{"c":"IT","t":2003.98,"v":4.54},{"c":"IT","t":2004.15,"v":4.34},{"c":"IT","t":2004.26,"v":4.54},{"c":"IT","t":2004.43,"v":4.69},{"c":"IT","t":2004.6,"v":4.34},{"c":"IT","t":2004.76,"v":4.15},{"c":"IT","t":2004.98,"v":3.83},{"c":"IT","t":2005.12,"v":3.99},{"c":"IT","t":2005.26,"v":3.63},{"c":"IT","t":2005.43,"v":3.44},{"c":"IT","t":2005.54,"v":3.5},{"c":"IT","t":2005.62,"v":3.37},{"c":"IT","t":2005.76,"v":3.69},{"c":"IT","t":2005.93,"v":3.56},{"c":"IT","t":2006.04,"v":3.79},{"c":"IT","t":2006.15,"v":3.83},{"c":"IT","t":2006.26,"v":4.28},{"c":"IT","t":2006.37,"v":4.15},{"c":"IT","t":2006.43,"v":4.41},{"c":"IT","t":2006.54,"v":4.15},{"c":"IT","t":2006.65,"v":3.95},{"c":"IT","t":2006.76,"v":4.15},{"c":"IT","t":2006.85,"v":4.02},{"c":"IT","t":2006.98,"v":4.47},{"c":"IT","t":2007.15,"v":4.34},{"c":"IT","t":2007.26,"v":4.54},{"c":"IT","t":2007.4,"v":4.92},{"c":"IT","t":2007.48,"v":4.66},{"c":"IT","t":2007.65,"v":4.66},{"c":"IT","t":2007.85,"v":4.47},{"c":"IT","t":2007.93,"v":4.86},{"c":"IT","t":2008.01,"v":4.43},{"c":"IT","t":2008.21,"v":4.43},{"c":"IT","t":2008.26,"v":4.48},

{"c":"NL","t":1990,"v":8.45},{"c":"NL","t":1990.1,"v":8.95},{"c":"NL","t":1990.16,"v":8.65},{"c":"NL","t":1990.27,"v":9.05},{"c":"NL","t":1990.41,"v":8.95},{"c":"NL","t":1990.51,"v":8.7},{"c":"NL","t":1990.66,"v":9.3},{"c":"NL","t":1990.86,"v":9.0},{"c":"NL","t":1990.96,"v":9.05},{"c":"NL","t":1991.11,"v":8.55},{"c":"NL","t":1991.19,"v":8.7},{"c":"NL","t":1991.33,"v":8.6},{"c":"NL","t":1991.52,"v":8.9},{"c":"NL","t":1991.61,"v":8.75},{"c":"NL","t":1991.77,"v":8.75},{"c":"NL","t":1991.91,"v":8.6},{"c":"NL","t":1992.02,"v":8.3},{"c":"NL","t":1992.11,"v":8.2},{"c":"NL","t":1992.19,"v":8.35},{"c":"NL","t":1992.33,"v":8.3},{"c":"NL","t":1992.5,"v":8.45},{"c":"NL","t":1992.61,"v":8.2},{"c":"NL","t":1992.66,"v":7.8},{"c":"NL","t":1992.8,"v":7.55},{"c":"NL","t":1992.94,"v":7.3},{"c":"NL","t":1993.1,"v":6.9},{"c":"NL","t":1993.33,"v":6.75},{"c":"NL","t":1993.43,"v":6.55},{"c":"NL","t":1993.66,"v":5.8},{"c":"NL","t":1993.85,"v":5.75},{"c":"NL","t":1993.95,"v":5.45},{"c":"NL","t":1994.05,"v":5.95},{"c":"NL","t":1994.21,"v":6.5},{"c":"NL","t":1994.35,"v":7.0},{"c":"NL","t":1994.49,"v":6.95},{"c":"NL","t":1994.66,"v":7.6},{"c":"NL","t":1994.83,"v":7.5},{"c":"NL","t":1994.93,"v":7.7},{"c":"NL","t":1995.09,"v":7.45},{"c":"NL","t":1995.33,"v":6.7},{"c":"NL","t":1995.43,"v":7.05},{"c":"NL","t":1995.59,"v":6.8},{"c":"NL","t":1995.83,"v":6.45},{"c":"NL","t":1995.99,"v":5.9},{"c":"NL","t":1996.16,"v":6.4},{"c":"NL","t":1996.26,"v":6.35},{"c":"NL","t":1996.43,"v":6.45},{"c":"NL","t":1996.59,"v":6.15},{"c":"NL","t":1996.8,"v":5.62},{"c":"NL","t":1996.96,"v":5.7},{"c":"NL","t":1997.07,"v":5.42},{"c":"NL","t":1997.18,"v":5.8},{"c":"NL","t":1997.32,"v":5.85},{"c":"NL","t":1997.49,"v":5.42},{"c":"NL","t":1997.57,"v":5.6},{"c":"NL","t":1997.71,"v":5.5},{"c":"NL","t":1997.85,"v":5.4},{"c":"NL","t":1997.99,"v":5.1},{"c":"NL","t":1998.1,"v":5.02},
{"c":"NL","t":1998.27,"v":5.17},{"c":"NL","t":1998.49,"v":4.84},{"c":"NL","t":1998.66,"v":4.2},{"c":"NL","t":1998.77,"v":4.39},{"c":"NL","t":1998.99,"v":3.81},{"c":"NL","t":1999.1,"v":4.2},{"c":"NL","t":1999.24,"v":3.94},{"c":"NL","t":1999.46,"v":4.78},{"c":"NL","t":1999.66,"v":5.23},{"c":"NL","t":1999.82,"v":5.36},{"c":"NL","t":2000,"v":5.69},{"c":"NL","t":2000.16,"v":5.42},{"c":"NL","t":2000.32,"v":5.42},{"c":"NL","t":2000.55,"v":5.42},{"c":"NL","t":2000.77,"v":5.36},{"c":"NL","t":2000.88,"v":5.1},{"c":"NL","t":2001.05,"v":4.95},{"c":"NL","t":2001.16,"v":4.93},{"c":"NL","t":2001.32,"v":5.3},{"c":"NL","t":2001.55,"v":4.91},{"c":"NL","t":2001.77,"v":4.59},{"c":"NL","t":2001.88,"v":5.08},{"c":"NL","t":2002.1,"v":5.08},{"c":"NL","t":2002.21,"v":5.36},{"c":"NL","t":2002.32,"v":5.23},{"c":"NL","t":2002.49,"v":4.97},{"c":"NL","t":2002.66,"v":4.48},{"c":"NL","t":2002.82,"v":4.65},{"c":"NL","t":2003.05,"v":4.13},{"c":"NL","t":2003.21,"v":4.26},{"c":"NL","t":2003.32,"v":3.84},{"c":"NL","t":2003.43,"v":4.07},{"c":"NL","t":2003.6,"v":4.33},{"c":"NL","t":2003.68,"v":4.13},{"c":"NL","t":2003.82,"v":4.52},{"c":"NL","t":2003.98,"v":4.33},{"c":"NL","t":2004.15,"v":4.13},{"c":"NL","t":2004.26,"v":4.33},{"c":"NL","t":2004.43,"v":4.48},{"c":"NL","t":2004.6,"v":4.13},{"c":"NL","t":2004.76,"v":3.94},{"c":"NL","t":2004.98,"v":3.62},{"c":"NL","t":2005.12,"v":3.78},{"c":"NL","t":2005.26,"v":3.42},{"c":"NL","t":2005.43,"v":3.23},{"c":"NL","t":2005.54,"v":3.29},{"c":"NL","t":2005.62,"v":3.16},{"c":"NL","t":2005.76,"v":3.48},{"c":"NL","t":2005.93,"v":3.35},{"c":"NL","t":2006.04,"v":3.58},{"c":"NL","t":2006.15,"v":3.62},{"c":"NL","t":2006.26,"v":4.07},{"c":"NL","t":2006.37,"v":3.94},{"c":"NL","t":2006.43,"v":4.2},{"c":"NL","t":2006.54,"v":3.94},{"c":"NL","t":2006.65,"v":3.74},{"c":"NL","t":2006.76,"v":3.94},{"c":"NL","t":2006.85,"v":3.81},{"c":"NL","t":2006.98,"v":4.26},{"c":"NL","t":2007.15,"v":4.13},{"c":"NL","t":2007.26,"v":4.33},{"c":"NL","t":2007.4,"v":4.71},{"c":"NL","t":2007.48,"v":4.45},{"c":"NL","t":2007.65,"v":4.45},{"c":"NL","t":2007.85,"v":4.26},{"c":"NL","t":2007.93,"v":4.65},{"c":"NL","t":2008.01,"v":4.22},{"c":"NL","t":2008.21,"v":4.22},{"c":"NL","t":2008.26,"v":4.27},

{"c":"PT","t":1993.49,"v":10.61},{"c":"PT","t":1993.55,"v":10.03},{"c":"PT","t":1993.6,"v":9.38},{"c":"PT","t":1993.71,"v":9.25},{"c":"PT","t":1993.85,"v":9.25},{"c":"PT","t":1993.93,"v":8.93},{"c":"PT","t":1993.99,"v":8.54},{"c":"PT","t":1994.07,"v":8.87},{"c":"PT","t":1994.21,"v":9.25},{"c":"PT","t":1994.32,"v":10.03},{"c":"PT","t":1994.43,"v":11.13},{"c":"PT","t":1994.52,"v":11.2},{"c":"PT","t":1994.6,"v":11.65},{"c":"PT","t":1994.71,"v":11.65},{"c":"PT","t":1994.8,"v":11.52},{"c":"PT","t":1994.93,"v":11.87},{"c":"PT","t":1995.05,"v":11.91},{"c":"PT","t":1995.16,"v":12.04},{"c":"PT","t":1995.24,"v":12.23},{"c":"PT","t":1995.32,"v":12.1},{"c":"PT","t":1995.41,"v":11.84},{"c":"PT","t":1995.49,"v":11.52},{"c":"PT","t":1995.6,"v":11.39},{"c":"PT","t":1995.71,"v":11.26},{"c":"PT","t":1995.8,"v":11.13},{"c":"PT","t":1995.85,"v":10.42},{"c":"PT","t":1995.93,"v":9.45},{"c":"PT","t":1996.05,"v":9.48},{"c":"PT","t":1996.16,"v":9.45},{"c":"PT","t":1996.27,"v":8.93},{"c":"PT","t":1996.43,"v":8.8},{"c":"PT","t":1996.6,"v":8.74},{"c":"PT","t":1996.68,"v":7.96},{"c":"PT","t":1996.8,"v":7.44},{"c":"PT","t":1996.88,"v":7.05},{"c":"PT","t":1997.05,"v":6.8},{"c":"PT","t":1997.16,"v":6.66},{"c":"PT","t":1997.27,"v":6.6},{"c":"PT","t":1997.43,"v":6.34},{"c":"PT","t":1997.55,"v":6.15},{"c":"PT","t":1997.68,"v":6.02},{"c":"PT","t":1997.8,"v":5.83},{"c":"PT","t":1997.93,"v":5.5},
{"c":"PT","t":1998.1,"v":5.28},{"c":"PT","t":1998.27,"v":5.35},{"c":"PT","t":1998.49,"v":5.02},{"c":"PT","t":1998.66,"v":4.38},{"c":"PT","t":1998.77,"v":4.57},{"c":"PT","t":1998.99,"v":3.99},{"c":"PT","t":1999.1,"v":4.38},{"c":"PT","t":1999.24,"v":4.12},{"c":"PT","t":1999.46,"v":4.96},{"c":"PT","t":1999.66,"v":5.41},{"c":"PT","t":1999.82,"v":5.54},{"c":"PT","t":2000,"v":5.87},{"c":"PT","t":2000.16,"v":5.6},{"c":"PT","t":2000.32,"v":5.6},{"c":"PT","t":2000.55,"v":5.6},{"c":"PT","t":2000.77,"v":5.54},{"c":"PT","t":2000.88,"v":5.28},{"c":"PT","t":2001.05,"v":5.09},{"c":"PT","t":2001.16,"v":5.05},{"c":"PT","t":2001.32,"v":5.48},{"c":"PT","t":2001.55,"v":5.09},{"c":"PT","t":2001.77,"v":4.77},{"c":"PT","t":2001.88,"v":5.26},{"c":"PT","t":2002.1,"v":5.26},{"c":"PT","t":2002.21,"v":5.54},{"c":"PT","t":2002.32,"v":5.41},{"c":"PT","t":2002.49,"v":5.15},{"c":"PT","t":2002.66,"v":4.66},{"c":"PT","t":2002.82,"v":4.83},{"c":"PT","t":2003.05,"v":4.31},{"c":"PT","t":2003.21,"v":4.44},{"c":"PT","t":2003.32,"v":4.02},{"c":"PT","t":2003.43,"v":4.25},{"c":"PT","t":2003.6,"v":4.51},{"c":"PT","t":2003.68,"v":4.31},{"c":"PT","t":2003.82,"v":4.7},{"c":"PT","t":2003.98,"v":4.51},{"c":"PT","t":2004.15,"v":4.31},{"c":"PT","t":2004.26,"v":4.51},{"c":"PT","t":2004.43,"v":4.66},{"c":"PT","t":2004.6,"v":4.31},{"c":"PT","t":2004.76,"v":4.12},{"c":"PT","t":2004.98,"v":3.8},{"c":"PT","t":2005.12,"v":3.96},{"c":"PT","t":2005.26,"v":3.6},{"c":"PT","t":2005.43,"v":3.41},{"c":"PT","t":2005.54,"v":3.47},{"c":"PT","t":2005.62,"v":3.34},{"c":"PT","t":2005.76,"v":3.66},{"c":"PT","t":2005.93,"v":3.53},{"c":"PT","t":2006.04,"v":3.76},{"c":"PT","t":2006.15,"v":3.8},{"c":"PT","t":2006.26,"v":4.25},{"c":"PT","t":2006.37,"v":4.12},{"c":"PT","t":2006.43,"v":4.38},{"c":"PT","t":2006.54,"v":4.12},{"c":"PT","t":2006.65,"v":3.92},{"c":"PT","t":2006.76,"v":4.12},{"c":"PT","t":2006.85,"v":3.99},{"c":"PT","t":2006.98,"v":4.44},{"c":"PT","t":2007.15,"v":4.31},{"c":"PT","t":2007.26,"v":4.51},{"c":"PT","t":2007.4,"v":4.89},{"c":"PT","t":2007.48,"v":4.63},{"c":"PT","t":2007.65,"v":4.63},{"c":"PT","t":2007.85,"v":4.44},{"c":"PT","t":2007.93,"v":4.83},{"c":"PT","t":2008.01,"v":4.4},{"c":"PT","t":2008.21,"v":4.4},{"c":"PT","t":2008.26,"v":4.45},

{"c":"SK","t":2003.98,"v":5.2},{"c":"SK","t":2004.1,"v":5.18},{"c":"SK","t":2004.21,"v":5.14},{"c":"SK","t":2004.32,"v":5.27},{"c":"SK","t":2004.49,"v":5.05},{"c":"SK","t":2004.63,"v":5.14},{"c":"SK","t":2004.77,"v":5.2},{"c":"SK","t":2004.85,"v":4.92},{"c":"SK","t":2004.93,"v":4.72},{"c":"SK","t":2005,"v":3.88},{"c":"SK","t":2005.07,"v":3.75},{"c":"SK","t":2005.18,"v":3.84},{"c":"SK","t":2005.3,"v":3.75},{"c":"SK","t":2005.41,"v":3.5},{"c":"SK","t":2005.52,"v":3.36},{"c":"SK","t":2005.63,"v":3.32},{"c":"SK","t":2005.74,"v":3.56},{"c":"SK","t":2005.85,"v":3.62},{"c":"SK","t":2005.96,"v":3.69},{"c":"SK","t":2006.05,"v":3.75},{"c":"SK","t":2006.13,"v":4.21},{"c":"SK","t":2006.21,"v":4.27},{"c":"SK","t":2006.3,"v":4.59},{"c":"SK","t":2006.38,"v":4.98},{"c":"SK","t":2006.49,"v":5.27},{"c":"SK","t":2006.57,"v":5.22},{"c":"SK","t":2006.66,"v":4.53},{"c":"SK","t":2006.74,"v":4.49},{"c":"SK","t":2006.82,"v":4.14},{"c":"SK","t":2006.91,"v":4.33},{"c":"SK","t":2007.05,"v":4.33},{"c":"SK","t":2007.21,"v":4.27},{"c":"SK","t":2007.32,"v":4.53},{"c":"SK","t":2007.43,"v":4.85},{"c":"SK","t":2007.52,"v":4.75},{"c":"SK","t":2007.66,"v":4.81},{"c":"SK","t":2007.77,"v":4.72},{"c":"SK","t":2007.91,"v":4.72},{"c":"SK","t":2008.02,"v":4.53},{"c":"SK","t":2008.13,"v":4.49},{"c":"SK","t":2008.26,"v":4.72},

{"c":"DE","t":1990,"v":7.8},{"c":"DE","t":1990.1,"v":8.8},{"c":"DE","t":1990.16,"v":8.41},{"c":"DE","t":1990.27,"v":8.93},{"c":"DE","t":1990.41,"v":8.8},{"c":"DE","t":1990.51,"v":8.54},{"c":"DE","t":1990.66,"v":9.23},{"c":"DE","t":1990.86,"v":8.89},{"c":"DE","t":1990.96,"v":8.97},{"c":"DE","t":1991.11,"v":8.37},{"c":"DE","t":1991.19,"v":8.54},{"c":"DE","t":1991.33,"v":8.41},{"c":"DE","t":1991.52,"v":8.78},{"c":"DE","t":1991.61,"v":8.54},{"c":"DE","t":1991.77,"v":8.45},{"c":"DE","t":1991.91,"v":8.28},{"c":"DE","t":1992.02,"v":8.02},{"c":"DE","t":1992.11,"v":7.93},{"c":"DE","t":1992.19,"v":8.16},{"c":"DE","t":1992.33,"v":8.09},{"c":"DE","t":1992.5,"v":8.28},{"c":"DE","t":1992.61,"v":7.96},{"c":"DE","t":1992.66,"v":7.63},{"c":"DE","t":1992.8,"v":7.44},{"c":"DE","t":1992.94,"v":7.25},{"c":"DE","t":1993.1,"v":7.0},{"c":"DE","t":1993.33,"v":6.85},{"c":"DE","t":1993.43,"v":6.66},{"c":"DE","t":1993.66,"v":5.95},{"c":"DE","t":1993.85,"v":5.88},{"c":"DE","t":1993.95,"v":5.65},{"c":"DE","t":1994.05,"v":6.04},{"c":"DE","t":1994.21,"v":6.54},{"c":"DE","t":1994.35,"v":7.0},{"c":"DE","t":1994.49,"v":6.92},{"c":"DE","t":1994.66,"v":7.58},{"c":"DE","t":1994.83,"v":7.44},{"c":"DE","t":1994.93,"v":7.67},{"c":"DE","t":1995.09,"v":7.38},{"c":"DE","t":1995.33,"v":6.66},{"c":"DE","t":1995.43,"v":7.05},{"c":"DE","t":1995.59,"v":6.8},{"c":"DE","t":1995.83,"v":6.41},{"c":"DE","t":1995.99,"v":5.89},{"c":"DE","t":1996.16,"v":6.41},{"c":"DE","t":1996.26,"v":6.34},{"c":"DE","t":1996.43,"v":6.47},{"c":"DE","t":1996.59,"v":6.21},{"c":"DE","t":1996.8,"v":5.69},{"c":"DE","t":1996.96,"v":5.76},{"c":"DE","t":1997.07,"v":5.44},{"c":"DE","t":1997.18,"v":5.83},{"c":"DE","t":1997.32,"v":5.89},{"c":"DE","t":1997.49,"v":5.44},{"c":"DE","t":1997.57,"v":5.63},{"c":"DE","t":1997.71,"v":5.5},{"c":"DE","t":1997.85,"v":5.37},{"c":"DE","t":1997.99,"v":5.05},
{"c":"DE","t":1998.1,"v":4.98},{"c":"DE","t":1998.27,"v":5.05},{"c":"DE","t":1998.49,"v":4.72},{"c":"DE","t":1998.66,"v":4.08},{"c":"DE","t":1998.77,"v":4.27},{"c":"DE","t":1998.99,"v":3.69},{"c":"DE","t":1999.1,"v":4.08},{"c":"DE","t":1999.24,"v":3.82},{"c":"DE","t":1999.46,"v":4.66},{"c":"DE","t":1999.66,"v":5.11},{"c":"DE","t":1999.82,"v":5.24},{"c":"DE","t":2000,"v":5.57},{"c":"DE","t":2000.16,"v":5.3},{"c":"DE","t":2000.32,"v":5.3},{"c":"DE","t":2000.55,"v":5.3},{"c":"DE","t":2000.77,"v":5.24},{"c":"DE","t":2000.88,"v":4.98},{"c":"DE","t":2001.05,"v":4.79},{"c":"DE","t":2001.16,"v":4.75},{"c":"DE","t":2001.32,"v":5.18},{"c":"DE","t":2001.55,"v":4.79},{"c":"DE","t":2001.77,"v":4.47},{"c":"DE","t":2001.88,"v":4.96},{"c":"DE","t":2002.1,"v":4.96},{"c":"DE","t":2002.21,"v":5.24},{"c":"DE","t":2002.32,"v":5.11},{"c":"DE","t":2002.49,"v":4.85},{"c":"DE","t":2002.66,"v":4.36},{"c":"DE","t":2002.82,"v":4.53},{"c":"DE","t":2003.05,"v":4.01},{"c":"DE","t":2003.21,"v":4.14},{"c":"DE","t":2003.32,"v":3.69},{"c":"DE","t":2003.43,"v":3.95},{"c":"DE","t":2003.6,"v":4.21},{"c":"DE","t":2003.68,"v":4.01},{"c":"DE","t":2003.82,"v":4.4},{"c":"DE","t":2003.98,"v":4.21},{"c":"DE","t":2004.15,"v":4.01},{"c":"DE","t":2004.26,"v":4.21},{"c":"DE","t":2004.43,"v":4.36},{"c":"DE","t":2004.6,"v":4.01},{"c":"DE","t":2004.76,"v":3.82},{"c":"DE","t":2004.98,"v":3.5},{"c":"DE","t":2005.12,"v":3.66},{"c":"DE","t":2005.26,"v":3.3},{"c":"DE","t":2005.43,"v":3.11},{"c":"DE","t":2005.54,"v":3.17},{"c":"DE","t":2005.62,"v":3.04},{"c":"DE","t":2005.76,"v":3.36},{"c":"DE","t":2005.93,"v":3.23},{"c":"DE","t":2006.04,"v":3.46},{"c":"DE","t":2006.15,"v":3.5},{"c":"DE","t":2006.26,"v":3.95},{"c":"DE","t":2006.37,"v":3.82},{"c":"DE","t":2006.43,"v":4.08},{"c":"DE","t":2006.54,"v":3.82},{"c":"DE","t":2006.65,"v":3.62},{"c":"DE","t":2006.76,"v":3.82},{"c":"DE","t":2006.85,"v":3.69},{"c":"DE","t":2006.98,"v":4.14},{"c":"DE","t":2007.15,"v":4.01},{"c":"DE","t":2007.26,"v":4.21},{"c":"DE","t":2007.4,"v":4.59},{"c":"DE","t":2007.48,"v":4.33},{"c":"DE","t":2007.65,"v":4.33},{"c":"DE","t":2007.85,"v":4.14},{"c":"DE","t":2007.93,"v":4.53},{"c":"DE","t":2008.01,"v":3.95},{"c":"DE","t":2008.21,"v":3.95},{"c":"DE","t":2008.26,"v":4.08}
]},
"mark": {"type": "line", "strokeWidth": 3.8, "clip": true, "strokeJoin": "round"},
"encoding": {
 "x": {"field": "t", "type": "quantitative", "scale": {"domain": [1990, 2008.27], "nice": false, "zero": false},
   "axis": {"values": [1990,1991,1992,1993,1994,1995,1996,1997,1998,1999,2000,2001,2002,2003,2004,2005,2006,2007,2008], "labelExpr": "format(datum.value % 100, '02d')", "labelPadding": 20, "labelFlush": false, "labelOverlap": false}},
 "y": {"field": "v", "type": "quantitative", "scale": {"domain": [0, 15], "nice": false},
   "axis": {"values": [0, 3, 6, 9, 12], "labelPadding": 15}},
 "color": {"field": "c", "type": "nominal",
   "scale": {"domain": ["AT","BE","ES","FI","FR","GR","IE","IT","NL","PT","SK","DE"],
     "range": ["#FF9900","#007A3D","#00FF00","#B35900","#4D4A1A","#660022","#993366","#B8895C","#00CCFF","#F2B088","#556655","#D90000"]},
   "legend": {}}
}
}
